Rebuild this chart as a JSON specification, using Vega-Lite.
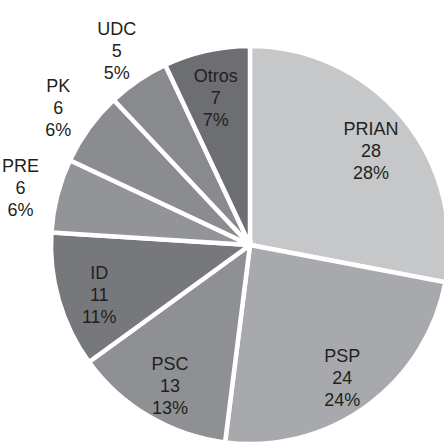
{
  "$schema": "https://vega.github.io/schema/vega-lite/v6.json",
  "width": 500,
  "height": 490,
  "autosize": {"type": "none"},
  "padding": 0,
  "background": "white",
  "view": {"stroke": null},
  "data": {
    "values": [
      {"partido": "PRIAN", "escanos": 28, "orden": 1},
      {"partido": "PSP", "escanos": 24, "orden": 2},
      {"partido": "PSC", "escanos": 13, "orden": 3},
      {"partido": "ID", "escanos": 11, "orden": 4},
      {"partido": "PRE", "escanos": 6, "orden": 5},
      {"partido": "PK", "escanos": 6, "orden": 6},
      {"partido": "UDC", "escanos": 5, "orden": 7},
      {"partido": "Otros", "escanos": 7, "orden": 8}
    ]
  },
  "transform": [
    {"joinaggregate": [{"op": "sum", "field": "escanos", "as": "total"}]},
    {"stack": "escanos", "groupby": [], "sort": [{"field": "orden", "order": "ascending"}], "as": ["t0", "t1"]},
    {"calculate": "(datum.t0 + datum.t1) / 2", "as": "tmid"},
    {"calculate": "[datum.partido, '' + datum.escanos, round(100 * datum.escanos / datum.total) + '%']", "as": "etiqueta"}
  ],
  "layer": [
    {
      "mark": {"type": "arc", "radius": 199, "stroke": "white", "strokeWidth": 4.5},
      "encoding": {
        "theta": {"field": "t1", "type": "quantitative", "scale": {"zero": true}},
        "theta2": {"field": "t0"},
        "color": {
          "field": "partido",
          "type": "nominal",
          "legend": null,
          "scale": {
            "domain": ["PRIAN", "PSP", "PSC", "ID", "PRE", "PK", "UDC", "Otros"],
            "range": ["#c6c7c9", "#a8a9ac", "#8f9093", "#77787b", "#939497", "#8b8c8f", "#898a8d", "#6d6e71"]
          }
        }
      }
    },
    {
      "transform": [{"filter": "datum.escanos >= 7"}],
      "mark": {"type": "text", "radius": 157, "dy": -15, "font": "Liberation Sans", "fontSize": 18, "lineHeight": 22, "color": "#231f20", "align": "center", "baseline": "middle"},
      "encoding": {
        "theta": {"field": "tmid", "type": "quantitative"},
        "text": {"field": "etiqueta"}
      }
    },
    {
      "transform": [{"filter": "datum.escanos < 7"}],
      "mark": {"type": "text", "radius": 237, "dy": -19, "font": "Liberation Sans", "fontSize": 18, "lineHeight": 22, "color": "#231f20", "align": "center", "baseline": "middle"},
      "encoding": {
        "theta": {"field": "tmid", "type": "quantitative"},
        "text": {"field": "etiqueta"}
      }
    }
  ]
}
